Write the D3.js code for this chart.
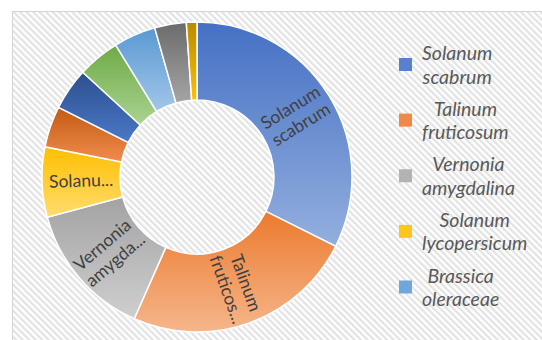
<!DOCTYPE html>
<html><head><meta charset="utf-8">
<script src="https://cdn.jsdelivr.net/npm/d3@7"></script>
<style>body{margin:0;background:#fff} svg{display:block}</style>
</head><body>
<svg id="c" width="542" height="340"></svg>
<script>
// ---- data ----
const categories = ["Solanum scabrum","Talinum fruticosum","Vernonia amygdalina","Solanum lycopersicum","slice 5","slice 6","slice 7","slice 8","slice 9","slice 10"];
const values = [32.4, 24.3, 14.2, 7.3, 4.3, 4.4, 4.4, 4.4, 3.3, 1.1];
const sliceLabels = [["Solanum","scabrum"],["Talinum","fruticos..."],["Vernonia","amygda..."],["Solanu..."],[],[],[],[],[],[]];
const colorTop    = ["#4570c4","#ec7a2e","#a3a3a3","#ffbf00","#c25a12","#2d4f8e","#6eab46","#5a99d3","#6b6b6b","#b88a00"];
const colorBottom = ["#93afde","#f5b68b","#cfcfcf","#ffdc6e","#f08c4e","#4a78c8","#aad391","#a2c6e8","#a5a5a5","#ffc000"];
const legendNames = [["Solanum","scabrum"],["Talinum","fruticosum"],["Vernonia","amygdalina"],["Solanum","lycopersicum"],["Brassica","oleraceae"]];
const legendColors = ["#5b7fcb","#f0884a","#b3b3b3","#ffc61a","#6fa6db"];

// ---- layout ----
const svg = d3.select("#c");
const W = 542, H = 340;
const cx = 197, cy = 177, rOuter = 155, rInner = 77;

const defs = svg.append("defs");
const P = 4.6;
const pat = defs.append("pattern").attr("id","hatch").attr("patternUnits","userSpaceOnUse")
  .attr("width",P).attr("height",P).attr("patternTransform","rotate(-45)");
pat.append("rect").attr("width",P).attr("height",P).attr("fill","#ffffff");
pat.append("line").attr("x1",1.2).attr("y1",0).attr("x2",1.2).attr("y2",P)
  .attr("stroke","#e0e0e0").attr("stroke-width",2);

colorTop.forEach((c,i)=>{
  const g = defs.append("linearGradient").attr("id","g"+i)
    .attr("x1",0).attr("y1",0).attr("x2",0).attr("y2",1);
  g.append("stop").attr("offset","0%").attr("stop-color",c);
  g.append("stop").attr("offset","100%").attr("stop-color",colorBottom[i]);
});

svg.append("rect").attr("width",W).attr("height",H).attr("fill","#fff");
svg.append("rect").attr("x",12.5).attr("y",11.5).attr("width",700).attr("height",500)
  .attr("fill","url(#hatch)").attr("stroke","#d4d4d4").attr("stroke-width",1);

const data = categories.map((c,i)=>({name:c, value:values[i], label:sliceLabels[i], i}));
const pie = d3.pie().value(d=>d.value).sort(null);
const arcs = pie(data);
const arc = d3.arc().innerRadius(rInner).outerRadius(rOuter);

const g = svg.append("g").attr("transform",`translate(${cx},${cy})`);
g.selectAll("path.slice").data(arcs).join("path")
  .attr("class","slice")
  .attr("d",arc)
  .attr("fill",d=>`url(#g${d.data.i})`)
  .attr("stroke","#fff").attr("stroke-width",1.5);

const labelR = (rInner + rOuter)/2;
const lab = g.selectAll("g.lab").data(arcs.filter(d=>d.data.label.length)).join("g")
  .attr("class","lab")
  .attr("transform",d=>{
    const a = (d.startAngle + d.endAngle)/2;
    const deg = a*180/Math.PI;
    const x = Math.sin(a)*labelR, y = -Math.cos(a)*labelR;
    const rot = deg <= 180 ? deg - 90 : deg - 270;
    return `translate(${x},${y}) rotate(${rot})`;
  });
lab.each(function(d){
  const n = d.data.label.length;
  const lh = 20;
  d3.select(this).selectAll("text").data(d.data.label).join("text")
    .attr("text-anchor","middle")
    .attr("y",(t,k)=> (k - (n-1)/2)*lh + 6)
    .attr("font-family","Lato, 'Open Sans', sans-serif")
    .attr("font-size",17.5)
    .attr("fill","#404040")
    .text(t=>t);
});

// legend
const legY = d3.scaleLinear().domain([0, legendNames.length-1]).range([64.5, 287]);
const leg = svg.append("g");
legendNames.forEach((lines,i)=>{
  const c = legY(i);
  leg.append("rect").attr("x",399).attr("y",c-6.5).attr("width",13).attr("height",13)
    .attr("fill",legendColors[i]);
  const tg = leg.append("g");
  const ts = tg.selectAll("text").data(lines).join("text")
    .attr("y",(t,k)=> c - 4.5 + k*23.5)
    .attr("font-family","Lato, 'Open Sans', sans-serif")
    .attr("font-style","italic")
    .attr("font-size",19.5)
    .attr("fill","#595959")
    .attr("text-anchor","middle")
    .text(t=>t);
  let maxW = 0;
  ts.each(function(){ maxW = Math.max(maxW, this.getComputedTextLength()); });
  ts.attr("x", 422 + maxW/2);
});
</script>
</body></html>
